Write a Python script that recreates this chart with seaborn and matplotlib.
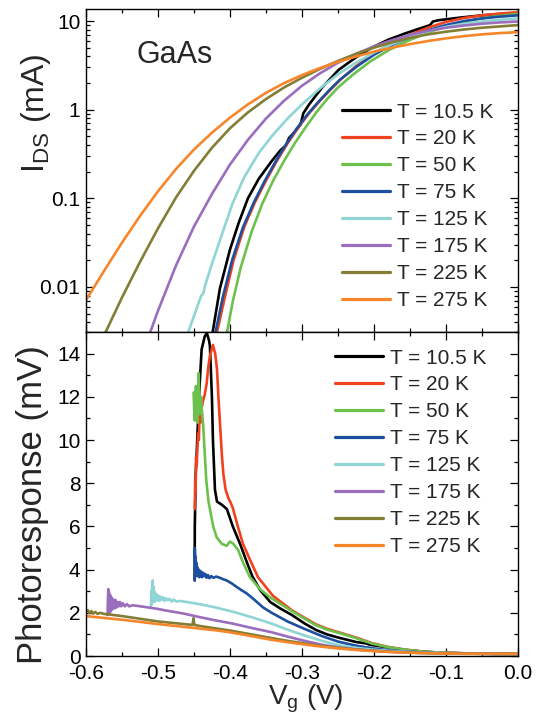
import matplotlib
matplotlib.use("Agg")
import matplotlib.pyplot as plt
import numpy as np
import pandas as pd
import seaborn as sns
from matplotlib.lines import Line2D
from matplotlib.ticker import MultipleLocator, LogLocator, FixedLocator, FixedFormatter, NullFormatter

# ---- series labels and colours ----
temps = ["T = 10.5 K", "T = 20 K", "T = 50 K", "T = 75 K",
         "T = 125 K", "T = 175 K", "T = 225 K", "T = 275 K"]
colors = ["#000000", "#f0421f", "#6cc14c", "#1d4f9f",
          "#8fd5d6", "#9a6dbd", "#837d35", "#f7862b"]

# ---- transfer curves: drain current I_DS (mA) vs gate voltage (V) ----
ids_vg_10 = [-0.430, -0.424, -0.414, -0.400, -0.388, -0.375, -0.360, -0.342, -0.330, -0.322,
             -0.318, -0.310, -0.302, -0.298, -0.290, -0.272, -0.249, -0.225, -0.203, -0.180,
             -0.157, -0.135, -0.122, -0.118, -0.110, -0.080, -0.050, -0.025, 0.000]
ids_10 = [0.00158, 0.00309, 0.00955, 0.0263, 0.0525, 0.100, 0.166, 0.263, 0.347, 0.398,
          0.479, 0.562, 0.676, 0.912, 1.148, 1.778, 2.818, 3.890, 5.012, 6.166,
          7.244, 8.318, 9.016, 9.886, 10.23, 10.96, 11.61, 12.02, 12.30]

ids_vg_20 = [-0.426, -0.418, -0.408, -0.395, -0.380, -0.365, -0.350, -0.335, -0.320, -0.305,
             -0.290, -0.275, -0.260, -0.245, -0.225, -0.200, -0.175, -0.150, -0.125, -0.100,
             -0.075, -0.050, -0.025, 0.000]
ids_20 = [0.00158, 0.00309, 0.00708, 0.0200, 0.0479, 0.0912, 0.158, 0.263, 0.417, 0.631,
          0.912, 1.259, 1.698, 2.239, 3.090, 4.315, 5.623, 6.998, 8.414, 9.772,
          10.84, 11.61, 12.16, 12.59]

ids_vg_50 = [-0.412, -0.404, -0.396, -0.385, -0.370, -0.355, -0.340, -0.325, -0.310, -0.295,
             -0.280, -0.265, -0.250, -0.230, -0.205, -0.180, -0.155, -0.130, -0.105, -0.080,
             -0.055, -0.030, 0.000]
ids_50 = [0.00141, 0.00309, 0.00692, 0.0166, 0.0417, 0.0871, 0.158, 0.263, 0.417, 0.631,
          0.933, 1.318, 1.778, 2.455, 3.508, 4.677, 5.888, 7.161, 8.414, 9.550,
          10.59, 11.35, 12.02]

ids_vg_75 = [-0.428, -0.420, -0.410, -0.397, -0.382, -0.367, -0.352, -0.337, -0.322, -0.307,
             -0.292, -0.277, -0.262, -0.247, -0.225, -0.200, -0.175, -0.150, -0.125, -0.100,
             -0.075, -0.050, -0.025, 0.000]
ids_75 = [0.00158, 0.00309, 0.00759, 0.0200, 0.0468, 0.0891, 0.155, 0.257, 0.407, 0.617,
          0.891, 1.230, 1.660, 2.188, 3.020, 4.169, 5.370, 6.607, 7.852, 9.016,
          10.00, 10.72, 11.22, 11.61]

ids_vg_125 = [-0.466, -0.458, -0.450, -0.444, -0.440, -0.437, -0.434, -0.425, -0.410, -0.396,
              -0.380, -0.360, -0.342, -0.320, -0.300, -0.275, -0.250, -0.225, -0.200, -0.175,
              -0.150, -0.125, -0.100, -0.075, -0.050, -0.025, 0.000]
ids_125 = [0.00200, 0.00309, 0.00468, 0.00646, 0.00794, 0.00851, 0.0107, 0.0182, 0.0417, 0.0891,
           0.174, 0.324, 0.501, 0.794, 1.148, 1.738, 2.512, 3.388, 4.416, 5.495,
           6.607, 7.674, 8.610, 9.333, 9.886, 10.35, 10.72]

ids_vg_175 = [-0.520, -0.500, -0.475, -0.450, -0.425, -0.400, -0.375, -0.350, -0.325, -0.300,
              -0.275, -0.250, -0.225, -0.200, -0.175, -0.150, -0.125, -0.100, -0.075, -0.050,
              -0.025, 0.000]
ids_175 = [0.00191, 0.00537, 0.0174, 0.0479, 0.112, 0.240, 0.457, 0.794, 1.259, 1.862,
           2.570, 3.388, 4.266, 5.188, 6.095, 6.998, 7.762, 8.414, 8.913, 9.333,
           9.661, 9.886]

ids_vg_225 = [-0.575, -0.550, -0.525, -0.500, -0.475, -0.450, -0.425, -0.400, -0.375, -0.350,
              -0.325, -0.300, -0.275, -0.250, -0.225, -0.200, -0.175, -0.150, -0.125, -0.100,
              -0.075, -0.050, -0.025, 0.000]
ids_225 = [0.00282, 0.00759, 0.0191, 0.0457, 0.102, 0.204, 0.372, 0.617, 0.933, 1.318,
           1.778, 2.291, 2.884, 3.548, 4.266, 5.012, 5.754, 6.457, 7.079, 7.586,
           8.035, 8.414, 8.710, 9.016]

ids_vg_275 = [-0.600, -0.575, -0.550, -0.525, -0.500, -0.475, -0.450, -0.425, -0.400, -0.375,
              -0.350, -0.325, -0.300, -0.275, -0.250, -0.225, -0.200, -0.175, -0.150, -0.125,
              -0.100, -0.075, -0.050, -0.025, 0.000]
ids_275 = [0.00708, 0.0151, 0.0316, 0.0631, 0.120, 0.214, 0.355, 0.550, 0.813, 1.148,
           1.549, 1.995, 2.455, 2.951, 3.467, 3.981, 4.519, 5.012, 5.495, 5.957,
           6.383, 6.761, 7.079, 7.328, 7.499]

# ---- photoresponse (mV) vs gate voltage (V) ----
pr_vg_10 = [-0.4490, -0.4488, -0.4475, -0.4463, -0.4430, -0.4393, -0.4350, -0.4320, -0.4290, -0.4278,
            -0.4262, -0.4250, -0.4236, -0.4208, -0.4180, -0.4111, -0.4042, -0.3960, -0.3860, -0.3760,
            -0.3690, -0.3580, -0.3440, -0.3300, -0.3140, -0.2960, -0.2800, -0.2650, -0.2490, -0.2250,
            -0.2100, -0.2060, -0.1800, -0.1570, -0.1300, -0.1100, -0.0700, -0.0300, 0.0000]
pr_10 = [3.5, 6.0, 8.5, 9.3, 12.0, 14.2, 14.8, 14.95, 14.6, 14.35,
         13.0, 12.0, 10.0, 7.7, 7.15, 7.0, 6.8, 6.0, 5.2, 4.3,
         3.7, 3.05, 2.5, 2.2, 1.9, 1.5, 1.2, 1.0, 0.85, 0.65,
         0.58, 0.52, 0.40, 0.28, 0.20, 0.16, 0.12, 0.10, 0.10]

pr_vg_20 = [-0.4488, -0.4482, -0.4477, -0.4470, -0.4462, -0.4452, -0.4442, -0.4432, -0.4422, -0.4412,
            -0.4402, -0.4392, -0.4375, -0.4350, -0.4324, -0.4300, -0.4278, -0.4236, -0.4205, -0.4180,
            -0.4160, -0.4135, -0.4110, -0.4090, -0.4060, -0.4020, -0.3990, -0.3960, -0.3890, -0.3820,
            -0.3720, -0.3610, -0.3490, -0.3400, -0.3140, -0.2960, -0.2800, -0.2650, -0.2490, -0.2250,
            -0.2030, -0.1800, -0.1570, -0.1300, -0.1100, -0.0700, -0.0300, 0.0000]
pr_20 = [6.8, 8.2, 7.6, 9.2, 8.8, 9.6, 10.3, 10.0, 11.2, 10.8,
         11.8, 11.5, 11.8, 12.1, 12.6, 13.4, 13.9, 14.4, 14.0, 13.3,
         12.0, 10.6, 9.2, 8.4, 7.7, 7.3, 7.1, 6.85, 6.0, 5.2,
         4.45, 3.65, 3.15, 2.78, 2.12, 1.76, 1.46, 1.26, 1.1, 0.86,
         0.6, 0.42, 0.3, 0.2, 0.16, 0.12, 0.1, 0.1]

pr_vg_50 = [-0.4505, -0.4495, -0.4488, -0.4480, -0.4472, -0.4465, -0.4458, -0.4450, -0.4442, -0.4435,
            -0.4428, -0.4420, -0.4412, -0.4400, -0.4390, -0.4380, -0.4370, -0.4350, -0.4330, -0.4300,
            -0.4278, -0.4232, -0.4185, -0.4115, -0.4046, -0.4000, -0.3954, -0.3885, -0.3815, -0.3722,
            -0.3583, -0.3444, -0.3140, -0.2960, -0.2800, -0.2650, -0.2490, -0.2250, -0.2030, -0.1800,
            -0.1570, -0.1300, -0.1100, -0.0700, -0.0300, 0.0000]
pr_50 = [12.2, 11.3, 10.9, 11.8, 12.5, 11.6, 12.0, 10.8, 12.4, 13.1,
         12.2, 11.2, 11.6, 12.0, 11.4, 11.0, 10.6, 9.4, 8.2, 7.2,
         6.8, 6.0, 5.5, 5.2, 5.1, 5.3, 5.2, 4.9, 4.3, 3.65,
         3.1, 2.72, 2.08, 1.72, 1.42, 1.22, 1.07, 0.83, 0.58, 0.41,
         0.29, 0.2, 0.16, 0.12, 0.1, 0.1]

pr_vg_75 = [-0.4488, -0.4488, -0.4482, -0.4476, -0.4470, -0.4463, -0.4456, -0.4449, -0.4442, -0.4434,
            -0.4426, -0.4418, -0.4408, -0.4398, -0.4386, -0.4372, -0.4358, -0.4342, -0.4325, -0.4305,
            -0.4285, -0.4260, -0.4230, -0.4190, -0.4139, -0.4090, -0.4046, -0.3970, -0.3907, -0.3840,
            -0.3768, -0.3676, -0.3540, -0.3420, -0.3200, -0.2960, -0.2720, -0.2490, -0.2250, -0.2030,
            -0.1800, -0.1570, -0.1300, -0.1100, -0.0700, -0.0300, 0.0000]
pr_75 = [3.5, 5.0, 4.1, 4.6, 3.8, 4.3, 3.7, 4.1, 3.8, 4.0,
         3.65, 3.95, 3.7, 3.9, 3.65, 3.85, 3.7, 3.8, 3.62, 3.75,
         3.6, 3.7, 3.62, 3.68, 3.62, 3.55, 3.5, 3.35, 3.2, 3.05,
         2.9, 2.65, 2.25, 2.0, 1.6, 1.25, 0.92, 0.66, 0.48, 0.36,
         0.27, 0.21, 0.16, 0.13, 0.11, 0.1, 0.1]

pr_vg_125 = [-0.5097, -0.5092, -0.5086, -0.5080, -0.5073, -0.5066, -0.5058, -0.5050, -0.5042, -0.5033,
             -0.5022, -0.5010, -0.4996, -0.4982, -0.4966, -0.4950, -0.4930, -0.4910, -0.4888, -0.4864,
             -0.4838, -0.4810, -0.4780, -0.4745, -0.4700, -0.4600, -0.4420, -0.4200, -0.3960, -0.3700,
             -0.3420, -0.3200, -0.2960, -0.2720, -0.2490, -0.2250, -0.2030, -0.1800, -0.1570, -0.1300,
             -0.1100, -0.0700, -0.0300, 0.0000]
pr_125 = [2.3, 3.0, 2.4, 3.3, 3.5, 2.6, 3.2, 2.5, 2.95, 2.55,
          2.85, 2.6, 2.8, 2.55, 2.75, 2.6, 2.72, 2.55, 2.68, 2.58,
          2.65, 2.52, 2.62, 2.52, 2.55, 2.5, 2.4, 2.25, 2.05, 1.8,
          1.5, 1.22, 0.95, 0.7, 0.5, 0.38, 0.3, 0.24, 0.2, 0.15,
          0.14, 0.11, 0.1, 0.1]

pr_vg_175 = [-0.5700, -0.5695, -0.5690, -0.5683, -0.5676, -0.5668, -0.5660, -0.5650, -0.5640, -0.5630,
             -0.5618, -0.5605, -0.5590, -0.5575, -0.5560, -0.5545, -0.5530, -0.5510, -0.5490, -0.5460,
             -0.5430, -0.5400, -0.5350, -0.5200, -0.5000, -0.4880, -0.4650, -0.4420, -0.4200, -0.3960,
             -0.3700, -0.3420, -0.3200, -0.2960, -0.2720, -0.2490, -0.2250, -0.2030, -0.1800, -0.1570,
             -0.1300, -0.1100, -0.0700, -0.0300, 0.0000]
pr_175 = [1.9, 2.6, 3.1, 2.2, 2.9, 2.0, 2.8, 2.1, 2.7, 2.2,
          2.6, 2.2, 2.6, 2.25, 2.5, 2.3, 2.5, 2.3, 2.45, 2.3,
          2.4, 2.3, 2.35, 2.28, 2.18, 2.1, 1.97, 1.8, 1.65, 1.5,
          1.3, 1.1, 0.9, 0.7, 0.52, 0.4, 0.31, 0.25, 0.2, 0.17,
          0.14, 0.13, 0.11, 0.1, 0.1]

pr_vg_225 = [-0.6000, -0.5975, -0.5950, -0.5925, -0.5900, -0.5870, -0.5840, -0.5800, -0.5750, -0.5700,
             -0.5500, -0.5200, -0.5000, -0.4700, -0.4520, -0.4505, -0.4495, -0.4480, -0.4400, -0.4200,
             -0.4000, -0.3700, -0.3420, -0.3200, -0.2960, -0.2720, -0.2490, -0.2250, -0.2030, -0.1800,
             -0.1570, -0.1300, -0.1100, -0.0700, -0.0300, 0.0000]
pr_225 = [2.05, 2.12, 1.98, 2.08, 1.97, 2.04, 1.95, 2.0, 1.95, 1.93,
          1.85, 1.7, 1.6, 1.5, 1.44, 1.75, 1.45, 1.43, 1.38, 1.28,
          1.18, 1.0, 0.83, 0.7, 0.58, 0.46, 0.38, 0.3, 0.25, 0.2,
          0.17, 0.14, 0.12, 0.11, 0.1, 0.1]

pr_vg_275 = [-0.6000, -0.5800, -0.5500, -0.5200, -0.5000, -0.4700, -0.4500, -0.4200, -0.4000, -0.3700,
             -0.3420, -0.3200, -0.2960, -0.2720, -0.2490, -0.2250, -0.2030, -0.1800, -0.1570, -0.1300,
             -0.1100, -0.0700, -0.0300, 0.0000]
pr_275 = [1.85, 1.78, 1.68, 1.56, 1.48, 1.37, 1.3, 1.19, 1.1, 0.92,
          0.75, 0.64, 0.53, 0.43, 0.35, 0.28, 0.23, 0.19, 0.16, 0.13,
          0.12, 0.1, 0.1, 0.1]

# ---- axis ticks ----
x_ticks = [-0.6, -0.5, -0.4, -0.3, -0.2, -0.1, 0.0]
x_ticklabels = ["-0.6", "-0.5", "-0.4", "-0.3", "-0.2", "-0.1", "0.0"]
ids_ticks = [0.01, 0.1, 1, 10]
ids_ticklabels = ["0.01", "0.1", "1", "10"]
pr_ticks = [0, 2, 4, 6, 8, 10, 12, 14]


def long_frame(pairs, ycol):
    frames = []
    for label, (xs, ys) in zip(temps, pairs):
        frames.append(pd.DataFrame({"Vg": xs, ycol: ys, "T": label}))
    return pd.concat(frames, ignore_index=True)


ids_df = long_frame([(ids_vg_10, ids_10), (ids_vg_20, ids_20), (ids_vg_50, ids_50),
                     (ids_vg_75, ids_75), (ids_vg_125, ids_125), (ids_vg_175, ids_175),
                     (ids_vg_225, ids_225), (ids_vg_275, ids_275)], "I")
pr_df = long_frame([(pr_vg_10, pr_10), (pr_vg_20, pr_20), (pr_vg_50, pr_50),
                    (pr_vg_75, pr_75), (pr_vg_125, pr_125), (pr_vg_175, pr_175),
                    (pr_vg_225, pr_225), (pr_vg_275, pr_275)], "P")

sns.set_theme(style="ticks")
plt.rcParams["font.family"] = ["Liberation Sans", "DejaVu Sans"]
plt.rcParams["mathtext.fontset"] = "custom"
plt.rcParams["mathtext.rm"] = "Liberation Sans"
plt.rcParams["mathtext.it"] = "Liberation Sans:italic"

TICK_FS = 15
LW = 1.9

fig = plt.figure(figsize=(5.44, 7.24), dpi=100)
ax1 = fig.add_axes([0.158, 0.5414, 0.794, 0.4462])
ax2 = fig.add_axes([0.158, 0.0939, 0.794, 0.4475], sharex=ax1)

sns.lineplot(data=ids_df, x="Vg", y="I", hue="T", hue_order=temps, palette=colors,
             sort=False, estimator=None, linewidth=LW, legend=False, ax=ax1)
sns.lineplot(data=pr_df, x="Vg", y="P", hue="T", hue_order=temps, palette=colors,
             sort=False, estimator=None, linewidth=LW, legend=False, ax=ax2)

# top panel: log current axis
ax1.set_yscale("log")
ax1.set_ylim(0.0031, 13.7)
ax1.yaxis.set_major_locator(FixedLocator(ids_ticks))
ax1.yaxis.set_major_formatter(FixedFormatter(ids_ticklabels))
ax1.yaxis.set_minor_locator(LogLocator(base=10, subs=np.arange(2, 10), numticks=20))
ax1.yaxis.set_minor_formatter(NullFormatter())
ax1.set_ylabel(r"I$_\mathregular{DS}$ (mA)", fontsize=23, va="baseline")
ax1.yaxis.set_label_coords(-0.097, 0.678)
ax1.set_xlabel("")
ax1.tick_params(axis="x", labelbottom=False)
ax1.text(0.206, 0.858, "GaAs", transform=ax1.transAxes, fontsize=22,
         ha="center", va="center")

# bottom panel: photoresponse
ax2.set_xlim(-0.6, 0.0)
ax2.set_ylim(0, 15)
ax2.xaxis.set_major_locator(FixedLocator(x_ticks))
ax2.xaxis.set_major_formatter(FixedFormatter(x_ticklabels))
ax2.xaxis.set_minor_locator(MultipleLocator(0.05))
ax2.yaxis.set_major_locator(FixedLocator(pr_ticks))
ax2.yaxis.set_minor_locator(MultipleLocator(1))
ax2.set_ylabel("Photoresponse (mV)", fontsize=25, va="baseline")
ax2.yaxis.set_label_coords(-0.102, 0.468)
ax2.set_xlabel(r"V$_\mathregular{g}$ (V)", fontsize=20, va="baseline")
ax2.xaxis.set_label_coords(0.508, -0.15)

for ax in (ax1, ax2):
    ax.tick_params(which="both", direction="in", top=True, right=True,
                   labelsize=TICK_FS, colors="black", width=0.9, pad=4)
    ax.tick_params(which="major", length=6)
    ax.tick_params(which="minor", length=3)
    for sp in ax.spines.values():
        sp.set_linewidth(1.0)
        sp.set_color("black")
ax2.tick_params(axis="x", which="major", pad=6)

handles = [Line2D([], [], color=c, lw=2.3) for c in colors]
leg_kw = dict(frameon=False, fontsize=TICK_FS, handlelength=2.3, handletextpad=0.34,
              labelspacing=0.38, borderpad=0, borderaxespad=0, loc="upper left")
ax1.legend(handles, temps, bbox_to_anchor=(0.593, 0.7105), **leg_kw)
ax2.legend(handles, temps, bbox_to_anchor=(0.576, 0.949), **leg_kw)

fig.savefig("out.png", dpi=100)
